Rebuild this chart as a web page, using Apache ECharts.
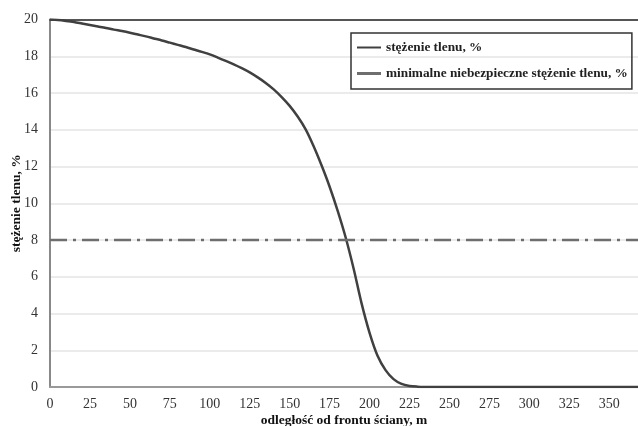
<!DOCTYPE html>
<html><head><meta charset="utf-8">
<script src="https://cdn.jsdelivr.net/npm/echarts@6/dist/echarts.min.js"></script>
<style>html,body{margin:0;padding:0;background:#fff}#c{width:638px;height:426px}</style>
</head><body><div id="c"></div>
<script>
const distance = [0,5,10,15,20,25,30,35,40,45,50,55,60,65,70,75,80,85,90,95,100,105,110,115,120,125,130,135,140,145,150,155,160,165,170,175,180,185,190,195,200,205,210,215,220,225,230,235,240,300,368];
const oxygen   = [20,19.97,19.92,19.86,19.78,19.7,19.62,19.54,19.45,19.37,19.28,19.18,19.08,18.97,18.86,18.74,18.62,18.5,18.37,18.24,18.1,17.93,17.75,17.56,17.35,17.12,16.85,16.55,16.2,15.78,15.3,14.72,14.02,13.1,12.05,10.9,9.6,8.15,6.45,4.55,2.95,1.7,0.92,0.43,0.17,0.06,0.02,0.005,0,0,0];
const thresholdValue = 8;
const xRange = [0, 368];
const seriesNames = ['stężenie tlenu, %', 'minimalne niebezpieczne stężenie tlenu, %'];
const xTitle = 'odległość od frontu ściany, m';
const yTitle = 'stężenie tlenu, %';

const font = 'Liberation Serif';
const chart = echarts.init(document.getElementById('c'));
chart.setOption({
  animation: false,
  backgroundColor: '#fff',
  textStyle: {fontFamily: font},
  grid: {left: 50, right: 0, top: 19.5, bottom: 39, outerBoundsMode: 'none', containLabel: false},
  legend: {
    left: 351, top: 33, orient: 'vertical',
    padding: [8, 4, 9, 6],
    itemGap: 13,
    itemWidth: 24, itemHeight: 14,
    borderColor: '#333', borderWidth: 1.5,
    textStyle: {fontFamily: font, fontWeight: 'bold', fontSize: 13.3, color: '#222'},
    data: [
      {name: seriesNames[0], icon: 'path://M0,6 L24,6 L24,8 L0,8 Z'},
      {name: seriesNames[1], icon: 'path://M4,6 L20,6 L20,8 L4,8 Z'}
    ]
  },
  xAxis: [{
    type: 'value', min: xRange[0], max: xRange[1], interval: 25,
    name: xTitle, nameLocation: 'middle', nameGap: 27, nameMoveOverlap: false,
    nameTextStyle: {fontFamily: font, fontWeight: 'bold', fontSize: 13.5, color: '#111'},
    axisLine: {lineStyle: {color: '#999', width: 2}},
    axisTick: {show: false},
    axisLabel: {showMaxLabel: false, fontFamily: font, fontSize: 14, color: '#333', margin: 10},
    splitLine: {show: false}
  }, {
    type: 'value', position: 'top', min: xRange[0], max: xRange[1],
    axisLine: {lineStyle: {color: '#555', width: 2}},
    axisTick: {show: false}, axisLabel: {show: false}, splitLine: {show: false}
  }],
  yAxis: {
    type: 'value', min: 0, max: 20, interval: 2,
    name: yTitle, nameLocation: 'middle', nameGap: 26, nameMoveOverlap: false,
    nameTextStyle: {fontFamily: font, fontWeight: 'bold', fontSize: 13.5, color: '#111'},
    axisLine: {show: true, lineStyle: {color: '#888', width: 2}},
    axisTick: {show: false},
    axisLabel: {fontFamily: font, fontSize: 14, color: '#333', margin: 12},
    splitLine: {lineStyle: {color: '#e4e4e4', width: 1.5}}
  },
  series: [{
    name: seriesNames[0], type: 'line', smooth: 0.3, symbol: 'none',
    data: distance.map((d, i) => [d, oxygen[i]]),
    lineStyle: {color: '#404040', width: 2.5},
    itemStyle: {color: '#404040'}
  }, {
    name: seriesNames[1], type: 'line', symbol: 'none',
    data: [[xRange[0], thresholdValue], [xRange[1], thresholdValue]],
    lineStyle: {color: '#6e6e6e', width: 2.5, type: [17, 6, 3, 6]},
    itemStyle: {color: '#6e6e6e'}
  }]
});
</script></body></html>
